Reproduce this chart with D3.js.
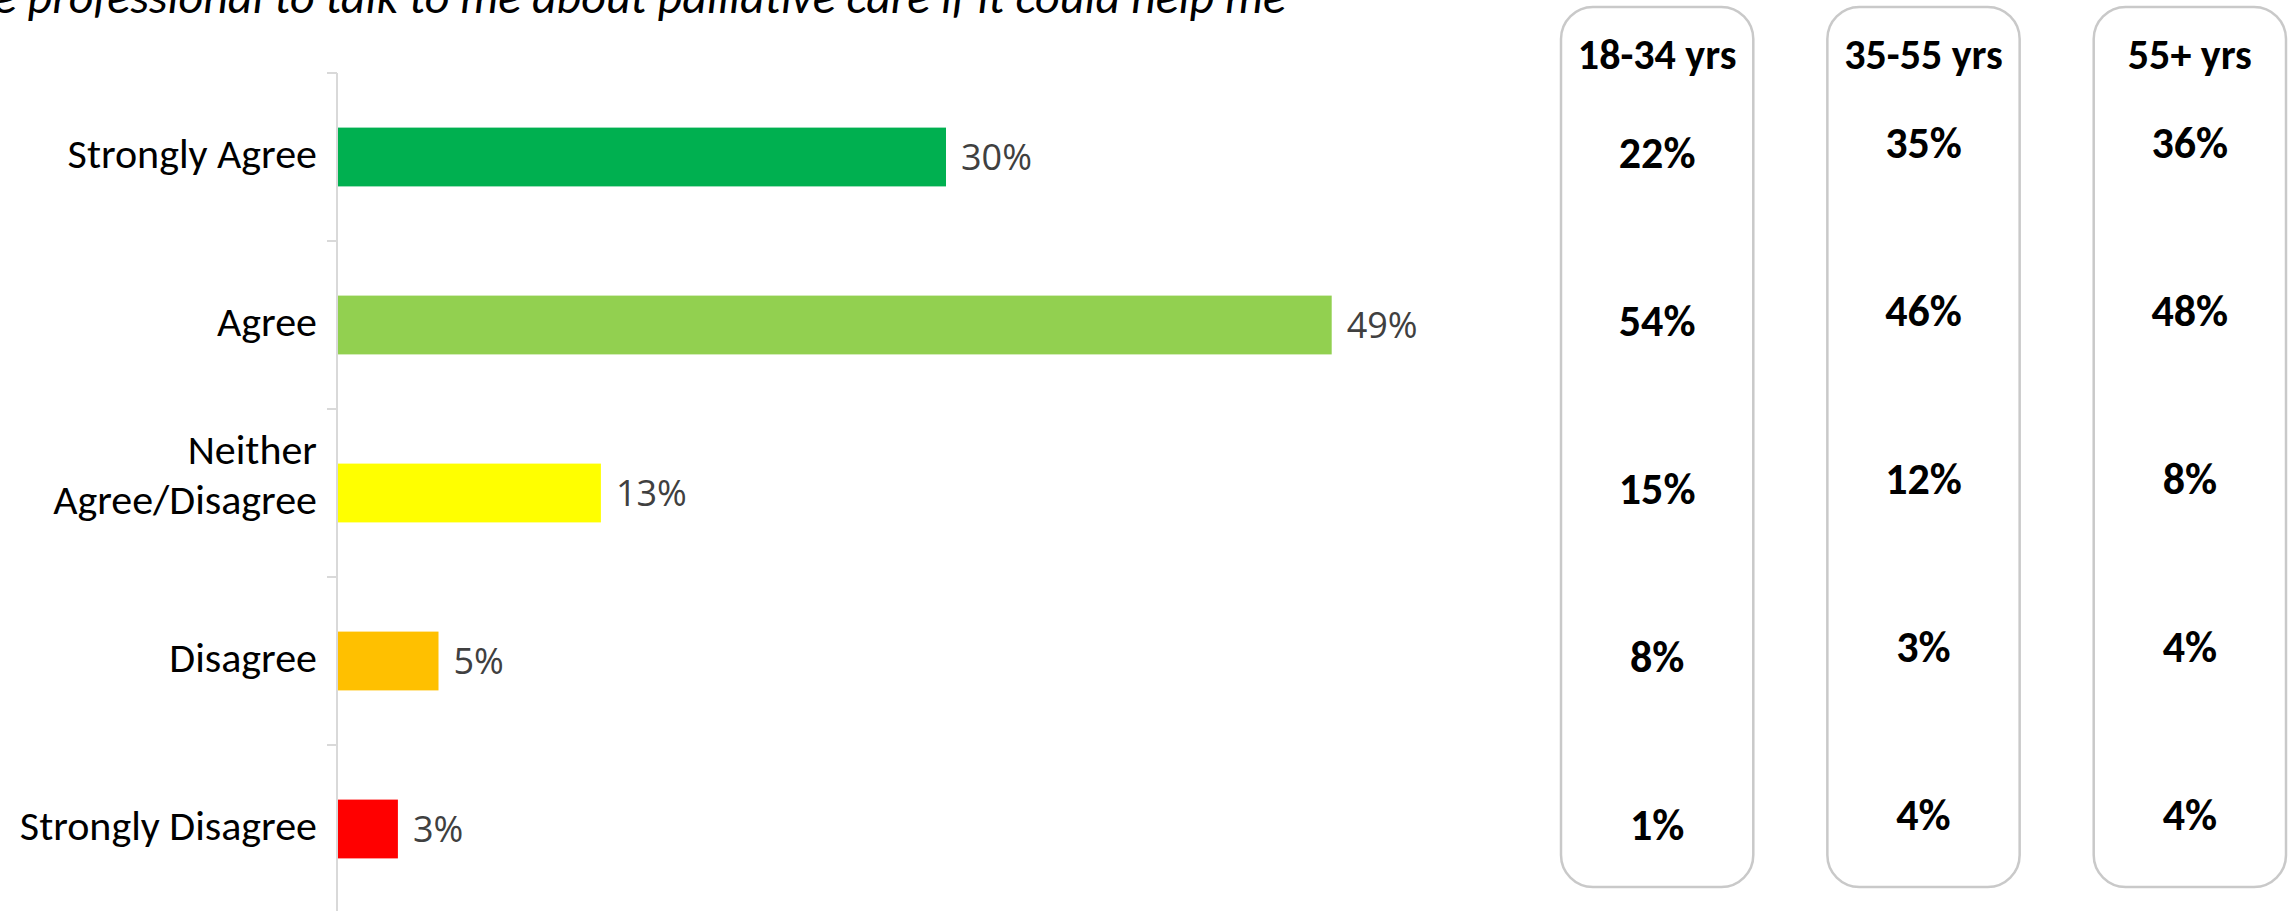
<!DOCTYPE html>
<html>
<head>
<meta charset="utf-8">
<script src="https://cdn.jsdelivr.net/npm/d3@7"></script>
<style>
  html, body { margin: 0; padding: 0; background: #ffffff; }
  svg { display: block; }
</style>
</head>
<body>
<svg id="chart" width="2290" height="911"></svg>
<script>
// ---------- data ----------
const titleText = "I would want a healthcare professional to talk to me about palliative care if it could help me";
const categories = ["Strongly Agree", "Agree", "Neither Agree/Disagree", "Disagree", "Strongly Disagree"];
const categoryLines = [["Strongly Agree"], ["Agree"], ["Neither", "Agree/Disagree"], ["Disagree"], ["Strongly Disagree"]];
const totalValues = [30, 49, 13, 5, 3];
const barColors = ["#00B050", "#92D050", "#FFFF00", "#FFC000", "#FF0000"];
const ageGroups = ["18-34 yrs", "35-55 yrs", "55+ yrs"];
const age18to34 = [22, 54, 15, 8, 1];
const age35to55 = [35, 46, 12, 3, 4];
const age55plus = [36, 48, 8, 4, 4];
const ageSeries = [age18to34, age35to55, age55plus];

// ---------- layout ----------
const FONT = "Carlito, Calibri, Lato, 'Liberation Sans Narrow', sans-serif";
const LABEL_FONT = "'Open Sans', 'Segoe UI', sans-serif";
const svg = d3.select("#chart");

const y = d3.scaleBand().domain(categories).range([73, 913]).paddingInner(0.65).paddingOuter(0.325);
const x = d3.scaleLinear().domain([0, 60]).range([337, 337 + 1218]);

// title (partially cut off at the top, as in reference)
svg.append("text")
  .attr("x", 1286).attr("y", 13)
  .attr("text-anchor", "end")
  .attr("font-family", FONT)
  .attr("font-style", "italic")
  .attr("font-size", 48)
  .attr("fill", "#000")
  .text(titleText);

// axis line + ticks at band boundaries
const axisG = svg.append("g");
const step = y.step();
const boundaries = categories.map(c => y(c) - step * y.paddingInner() / 2).concat([y(categories[categories.length - 1]) - step * y.paddingInner() / 2 + step]);
axisG.append("line")
  .attr("x1", x(0)).attr("x2", x(0))
  .attr("y1", boundaries[0]).attr("y2", boundaries[boundaries.length - 1])
  .attr("stroke", "#d9d9d9").attr("stroke-width", 2);
axisG.selectAll("line.tick").data(boundaries).enter().append("line")
  .attr("class", "tick")
  .attr("x1", x(0) - 10).attr("x2", x(0))
  .attr("y1", d => d).attr("y2", d => d)
  .attr("stroke", "#d9d9d9").attr("stroke-width", 2);

// bars
svg.selectAll("rect.bar").data(categories).enter().append("rect")
  .attr("class", "bar")
  .attr("x", x(0) + 1)
  .attr("y", d => y(d))
  .attr("width", (d, i) => x(totalValues[i]) - x(0) - 1)
  .attr("height", y.bandwidth())
  .attr("fill", (d, i) => barColors[i]);

// value labels
svg.selectAll("text.val").data(categories).enter().append("text")
  .attr("class", "val")
  .attr("x", (d, i) => x(totalValues[i]) + 15)
  .attr("y", d => y(d) + y.bandwidth() / 2)
  .attr("dy", "0.36em")
  .attr("font-family", LABEL_FONT)
  .attr("font-size", 36)
  .attr("fill", "#404040")
  .text((d, i) => totalValues[i] + "%");

// category labels (one text element per line)
const lineData = [];
categories.forEach((c, i) => {
  const lines = categoryLines[i];
  const lh = 50;
  const cy = y(c) + y.bandwidth() / 2 - (lines.length > 1 ? 19 : 4);
  lines.forEach((ln, k) => lineData.push({ text: ln, y: cy + (k - (lines.length - 1) / 2) * lh }));
});
svg.selectAll("text.cat").data(lineData).enter().append("text")
  .attr("class", "cat")
  .attr("x", 317)
  .attr("y", d => d.y)
  .attr("dy", "0.35em")
  .attr("text-anchor", "end")
  .attr("font-family", FONT)
  .attr("font-size", 42)
  .attr("fill", "#000")
  .text(d => d.text);

// age group boxes
const bx = d3.scaleBand().domain(ageGroups).range([1561, 2286]).paddingInner(0.278).paddingOuter(0);
const colOffsets = [-4, -14, -14];
const boxG = svg.selectAll("g.box").data(ageGroups).enter().append("g").attr("class", "box");
boxG.append("rect")
  .attr("x", d => bx(d))
  .attr("y", 7)
  .attr("width", bx.bandwidth())
  .attr("height", 880)
  .attr("rx", 32).attr("ry", 32)
  .attr("fill", "none")
  .attr("stroke", "#c9c9c9")
  .attr("stroke-width", 2.5);
boxG.append("text")
  .attr("x", d => bx(d) + bx.bandwidth() / 2)
  .attr("y", 54)
  .attr("dy", "0.35em")
  .attr("text-anchor", "middle")
  .attr("font-family", FONT)
  .attr("font-weight", "bold")
  .attr("font-size", 42)
  .attr("fill", "#000")
  .text(d => d);
boxG.each(function(g, gi) {
  d3.select(this).selectAll("text.pct").data(ageSeries[gi]).enter().append("text")
    .attr("class", "pct")
    .attr("x", bx(g) + bx.bandwidth() / 2)
    .attr("y", (v, i) => y(categories[i]) + y.bandwidth() / 2 + colOffsets[gi])
    .attr("dy", "0.35em")
    .attr("text-anchor", "middle")
    .attr("font-family", FONT)
    .attr("font-weight", "bold")
    .attr("font-size", 44)
    .attr("fill", "#000")
    .text(v => v + "%");
});
</script>
</body>
</html>
